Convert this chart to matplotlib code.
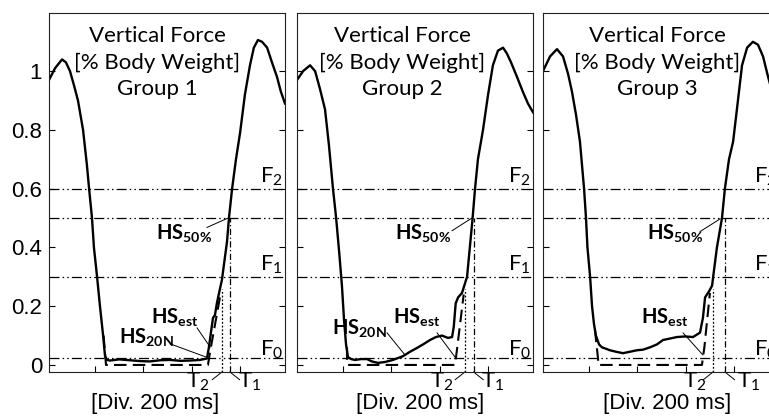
import numpy as np
import matplotlib.pyplot as plt

plt.rcParams['font.family'] = ['Lato', 'DejaVu Sans']
plt.rcParams['mathtext.fontset'] = 'custom'
plt.rcParams['mathtext.rm'] = 'Lato'
plt.rcParams['mathtext.it'] = 'Lato:italic'
plt.rcParams['mathtext.bf'] = 'Lato:bold'

# force curves, time in ms from left edge of each panel, force in body weight
t_g1 = [0, 25, 54, 70, 87, 104, 120, 141, 157, 166, 178, 186, 199, 211, 224, 232, 240, 253,
        290, 335, 380, 418, 460, 501, 545, 584, 625, 654, 662, 672, 679, 687, 695, 708, 716,
        724, 737, 745, 758, 774, 791, 811, 832, 848, 865, 882, 903, 923, 944, 960, 977]
f_g1 = [0.97, 1.01, 1.04, 1.03, 1.0, 0.95, 0.90, 0.80, 0.68, 0.60, 0.50, 0.40, 0.30, 0.20, 0.10,
        0.03, 0.017, 0.015, 0.019, 0.016, 0.013, 0.012, 0.016, 0.017, 0.014, 0.015, 0.017, 0.022,
        0.06, 0.12, 0.16, 0.17, 0.21, 0.26, 0.29, 0.34, 0.42, 0.50, 0.60, 0.70, 0.79, 0.92, 1.02,
        1.08, 1.106, 1.10, 1.08, 1.03, 0.98, 0.93, 0.89]

t_g2 = [0, 25, 54, 75, 95, 116, 132, 149, 162, 175, 186, 195, 203, 211, 224, 240, 265, 290, 310,
        335, 364, 397, 439, 468, 497, 526, 551, 575, 600, 625, 642, 649, 657, 667, 683, 704, 727,
        737, 749, 770, 791, 811, 832, 853, 869, 886, 911, 935, 956, 977]
f_g2 = [0.97, 1.0, 1.02, 1.0, 0.94, 0.87, 0.75, 0.60, 0.50, 0.38, 0.27, 0.15, 0.07, 0.027, 0.02,
        0.017, 0.02, 0.02, 0.012, 0.007, 0.01, 0.017, 0.03, 0.045, 0.058, 0.072, 0.085, 0.095,
        0.10, 0.092, 0.095, 0.13, 0.21, 0.23, 0.245, 0.30, 0.50, 0.60, 0.70, 0.80, 0.92, 1.02,
        1.07, 1.08, 1.06, 1.03, 0.98, 0.93, 0.89, 0.86]

t_g3 = [0, 29, 58, 83, 104, 120, 137, 153, 170, 178, 184, 195, 203, 211, 219, 232, 244, 261, 277,
        302, 331, 360, 389, 414, 443, 472, 497, 526, 555, 588, 621, 650, 662, 671, 687, 700, 706,
        720, 741, 753, 770, 787, 807, 824, 845, 869, 890, 911, 932, 952, 977]
f_g3 = [1.0, 1.05, 1.075, 1.05, 0.99, 0.93, 0.85, 0.76, 0.60, 0.50, 0.40, 0.30, 0.20, 0.14, 0.10,
        0.07, 0.06, 0.055, 0.05, 0.045, 0.04, 0.045, 0.05, 0.052, 0.06, 0.07, 0.085, 0.09, 0.095,
        0.097, 0.095, 0.11, 0.16, 0.23, 0.25, 0.27, 0.31, 0.40, 0.50, 0.60, 0.70, 0.76, 0.90,
        1.02, 1.08, 1.10, 1.09, 1.05, 0.98, 0.92, 0.86]

# estimated (dashed) curves
t_est1 = [226, 236, 658, 668, 690, 712]
f_est1 = [0.10, 0.0, 0.0, 0.05, 0.15, 0.25]
t_est2 = [207, 207, 654, 662, 690]
f_est2 = [0.06, 0.0, 0.0, 0.05, 0.24]
t_est3 = [215, 228, 228, 658, 668, 691]
f_est3 = [0.12, 0.02, 0.0, 0.0, 0.06, 0.245]

# T2 / T1 instants [ms]
T2 = [716, 695, 704]
T1 = [749, 731, 753]

groups = ['Group 1', 'Group 2', 'Group 3']
levels = [0.025, 0.3, 0.5, 0.6]
yticks = [0, 0.2, 0.4, 0.6, 0.8, 1]
xticks = [190, 390, 590, 790]

curves = [(t_g1, f_g1), (t_g2, f_g2), (t_g3, f_g3)]
ests = [(t_est1, f_est1), (t_est2, f_est2), (t_est3, f_est3)]

W, H = 769, 416
fig = plt.figure(figsize=(W / 100, H / 100), dpi=100)

lefts = [49, 297, 543]
title_x = [0.458, 0.445, 0.483]
xlab_x = [0.449, 0.52, 0.525]
# label layout: (text pos, leader start, leader end) in data coords
hs50 = [((559, 0.45), (654, 0.468), (741, 0.5)),
        ((522, 0.45), (642, 0.457), (724, 0.5)),
        ((546, 0.45), (650, 0.454), (733, 0.497))]
hsest = [((522, 0.164), (613, 0.126), (667, 0.061)),
         ((497, 0.164), (580, 0.109), (654, 0.027)),
         ((505, 0.164), (580, 0.109), (662, 0.034))]
hs20 = [((402, 0.096), (501, 0.072), (650, 0.027)),
        ((257, 0.126), (373, 0.109), (447, 0.034)),
        None]
t2_text = [616, 600, 629]
t1_text = [830, 811, 853]

ref_ls = (0, (8, 2.5, 1.2, 2.5, 1.2, 2.5))

for i in range(3):
    ax = fig.add_axes([lefts[i] / W, 44 / H, 236 / W, 359 / H])
    ax.set_xlim(0, 977)
    ax.set_ylim(-0.024, 1.198)

    for lv in levels:
        ax.axhline(lv, color='k', lw=0.9, ls=ref_ls)

    t, f = curves[i]
    ax.plot(t, f, color='k', lw=1.7, solid_joinstyle='round')
    te, fe = ests[i]
    ax.plot(te, fe, color='k', lw=1.5, ls=(0, (6, 3)))

    ax.plot([T2[i], T2[i]], [-0.024, 0.26], color='k', lw=0.9, ls=(0, (1.5, 1.5)))
    ax.plot([T1[i], T1[i]], [-0.024, 0.5], color='k', lw=0.9, ls=(0, (5, 2, 1, 2)))
    # leader lines to T labels below the axis
    ax.plot([T2[i], T2[i] - 40], [-0.024, -0.05], color='k', lw=0.7, clip_on=False)
    ax.plot([T1[i], T1[i] + 40], [-0.024, -0.05], color='k', lw=0.7, clip_on=False)
    ax.text(t2_text[i], -0.056, r'$\mathrm{T_2}$', fontsize=16, ha='center', va='center')
    ax.text(t1_text[i], -0.056, r'$\mathrm{T_1}$', fontsize=16, ha='center', va='center')

    ax.text(title_x[i], 0.862, 'Vertical Force\n[% Body Weight]\n' + groups[i],
            transform=ax.transAxes, ha='center', va='center', fontsize=16, linespacing=1.42)
    ax.text(xlab_x[i], -0.088, '[Div. 200 ms]', transform=ax.transAxes, ha='center',
            va='center', fontsize=16, family='Liberation Sans')

    for lab, y in [(r'$\mathrm{F_2}$', 0.64), (r'$\mathrm{F_1}$', 0.34), (r'$\mathrm{F_0}$', 0.052)]:
        ax.text(920, y, lab, fontsize=16, ha='center', va='center')

    for item, lab in [(hs50[i], r'$\mathbf{HS}_{\mathbf{50\%}}$'),
                      (hsest[i], r'$\mathbf{HS}_{\mathbf{est}}$'),
                      (hs20[i], r'$\mathbf{HS}_{\mathbf{20N}}$')]:
        if item is None:
            continue
        pos, a, b = item
        ax.text(pos[0], pos[1], lab, fontsize=14.5, ha='center', va='center')
        ax.plot([a[0], b[0]], [a[1], b[1]], color='k', lw=0.7)

    ax.set_xticks(xticks)
    ax.set_xticklabels([])
    ax.set_yticks(yticks)
    ax.tick_params(direction='in', length=4, width=0.8, right=True, colors='k', pad=5)
    if i == 0:
        ax.set_yticklabels(['0', '0.2', '0.4', '0.6', '0.8', '1'], family='Liberation Sans',
                           fontsize=16)
    else:
        ax.set_yticklabels([])
    for s in ax.spines.values():
        s.set_linewidth(0.8)
        s.set_color('#222222')

fig.savefig('out.png', dpi=100)
